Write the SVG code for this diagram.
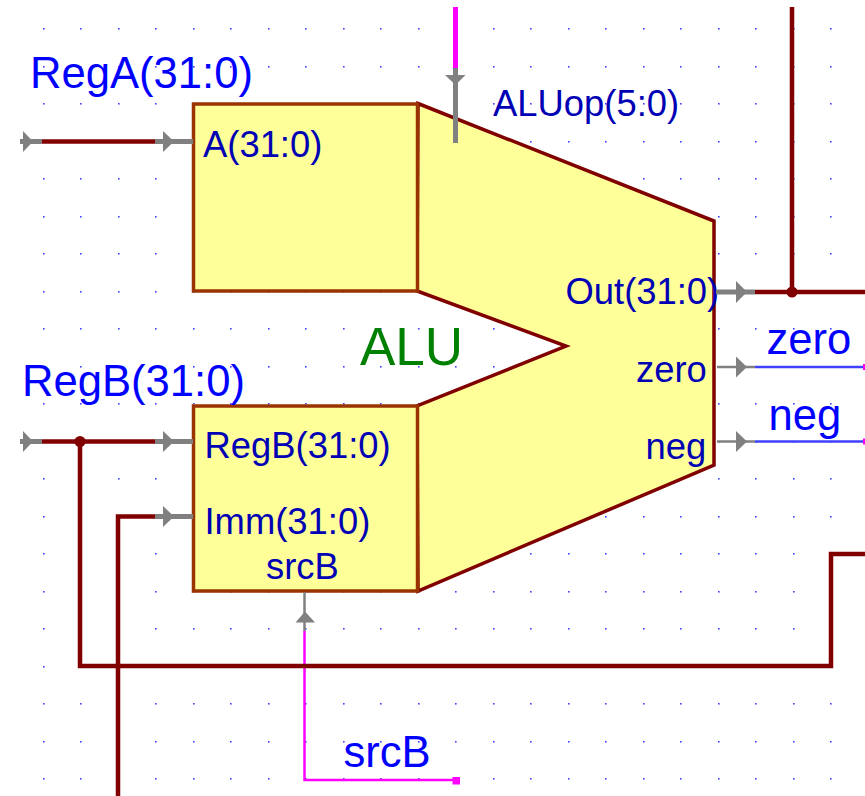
<svg xmlns="http://www.w3.org/2000/svg" width="865" height="796" viewBox="0 0 865 796">
<style>
text{font-family:"Liberation Sans",Arial,sans-serif}
.big{font-size:43.6px;fill:#0000ff}
.pin{font-size:36.4px;fill:#0000b4}
.box{fill:#ffff99;stroke:#993300;stroke-width:3.5}
.body{fill:#ffff99;stroke:#800000;stroke-width:3.5;stroke-linejoin:miter}
.bus{fill:none;stroke:#800000;stroke-width:4.5}
.stub{fill:none;stroke:#808080;stroke-width:5}
.stubt{fill:none;stroke:#808080;stroke-width:2.5}
.tri{fill:#808080}
.sig{fill:none;stroke:#4040ff;stroke-width:2.5}
.mag{fill:none;stroke:#ff00ff;stroke-width:2.5}
</style>
<defs>
<pattern id="grid" patternUnits="userSpaceOnUse" width="75" height="75">
<rect x="43" y="28" width="1.6" height="1.6" fill="#4040ff"/>
<rect x="5" y="28" width="1.6" height="1.6" fill="#4040ff"/>
<rect x="43" y="66" width="1.6" height="1.6" fill="#4040ff"/>
<rect x="5" y="66" width="1.6" height="1.6" fill="#4040ff"/>
</pattern>
</defs>
<rect width="865" height="796" fill="#ffffff"/>
<rect x="40" y="20" width="825" height="765" fill="url(#grid)"/>

<g id="alu">
<polygon class="body" points="418,103.500 714,221 714,465 418,591 417,406 566,346 417,291"/>
<rect class="box" x="193.500" y="104" width="224" height="187"/>
<rect class="box" x="193.500" y="406" width="224" height="185"/>
<text x="360" y="365" font-size="53" fill="#008000">ALU</text>
<text class="pin" x="203" y="157">A(31:0)</text>
<text class="pin" x="204.500" y="458">RegB(31:0)</text>
<text class="pin" x="204.500" y="534">Imm(31:0)</text>
<text class="pin" x="266" y="579">srcB</text>
<text class="pin" x="565.500" y="304">Out(31:0)</text>
<text class="pin" x="636" y="382">zero</text>
<text class="pin" x="645.500" y="459">neg</text>
<text class="pin" x="493" y="116">ALUop(5:0)</text>
</g>

<g id="connectors">
<path class="mag" d="M304.500 631V780H456"/>
<rect x="452.500" y="777" width="7.500" height="7.500" fill="#ff00ff"/>
<path class="bus" d="M42 141.500H155"/>
<path class="bus" d="M42 441.500H155"/>
<path class="bus" d="M80 441.500V666H831V554H865"/>
<circle cx="80" cy="441.500" r="5.500" fill="#800000"/>
<path class="bus" d="M155 516.500H118V796"/>
<path class="bus" d="M755 292H865"/>
<path class="bus" d="M792 7V292"/>
<circle cx="792" cy="292" r="5.500" fill="#800000"/>
<path class="sig" d="M755 367H865"/>
<path class="sig" d="M755 441.500H865"/>
<rect x="863" y="364" width="2" height="6" fill="#ff00ff"/>
<rect x="863" y="438.500" width="2" height="6" fill="#ff00ff"/>
<path d="M455.500 7V68" fill="none" stroke="#ff00ff" stroke-width="5"/>

<path class="stub" d="M20 141.500H42"/>
<polygon class="tri" points="23,131 33,141.500 23,152"/>
<path class="stub" d="M155 141.500H193"/>
<polygon class="tri" points="163,131 174,141.500 163,152"/>
<path class="stub" d="M20 441.500H42"/>
<polygon class="tri" points="23,431 33,441.500 23,452"/>
<path class="stub" d="M155 441.500H193"/>
<polygon class="tri" points="163,431 174,441.500 163,452"/>
<path class="stub" d="M155 516.500H193"/>
<polygon class="tri" points="163,506 174,516.500 163,527"/>
<path class="stub" d="M716 292H755"/>
<polygon class="tri" points="736,281 747,292 736,303"/>
<path class="stubt" d="M717 367H755"/>
<polygon class="tri" points="736,356.500 747,367 736,377.500"/>
<path class="stubt" d="M717 441.500H755"/>
<polygon class="tri" points="736,431 747,441.500 736,452"/>
<path class="stub" d="M455.500 68V143"/>
<polygon class="tri" points="445,75 465.500,75 455.500,85"/>
<path class="stubt" d="M304.500 592V631"/>
<polygon class="tri" points="295.500,622.500 315,622.500 305,611.500"/>
</g>

<g id="labels">
<text class="big" x="30" y="88">RegA(31:0)</text>
<text class="big" x="22" y="396">RegB(31:0)</text>
<text class="big" x="766.500" y="354">zero</text>
<text class="big" x="768.500" y="430">neg</text>
<text class="big" x="343.500" y="767">srcB</text>
</g>
</svg>
